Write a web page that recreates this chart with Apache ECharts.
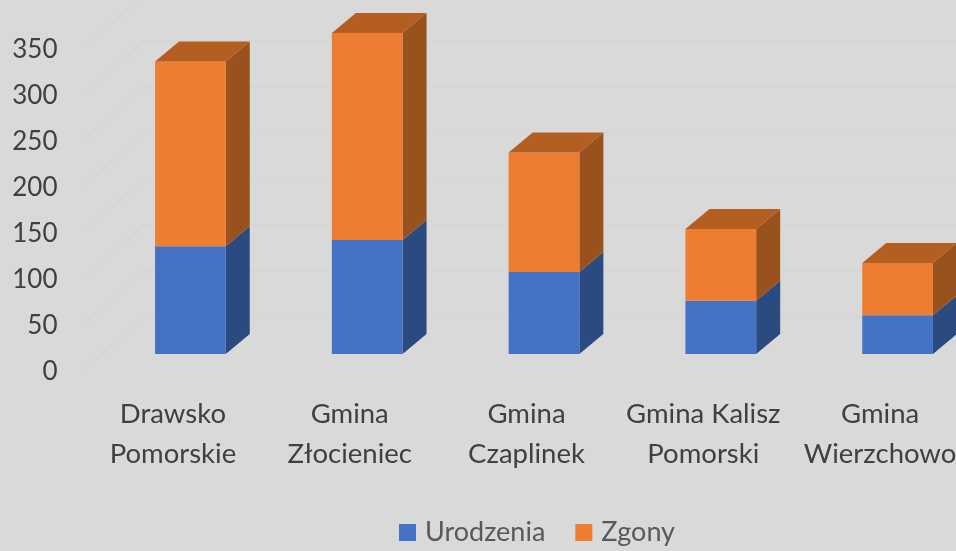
<!DOCTYPE html>
<html lang="pl">

<head>
    <meta charset="UTF-8">
    <title>Urodzenia i zgony</title>
    <script src="https://cdn.jsdelivr.net/npm/echarts/dist/echarts.min.js"></script>
    <style>
        html, body { margin: 0; padding: 0; background: #d9d9d9; }
        #chart { width: 956px; height: 551px; }
    </style>
</head>

<body>
    <div id="chart"></div>

    <script>
        let categories = ['Drawsko\nPomorskie', 'Gmina\nZłocieniec', 'Gmina\nCzaplinek', 'Gmina Kalisz\nPomorski', 'Gmina\nWierzchowo'];
        let urodzenia = [117, 124, 89, 58, 42];
        let zgony = [201, 225, 130, 78, 57];
        let yTicks = [0, 50, 100, 150, 200, 250, 300, 350];

        // pseudo 3D: the axis is the front plane, bars stand further back in it
        let barShift = [17.5, -18];
        let barDepth = [24, -20];
        let wallStart = -3;
        let wallShift = [60, -52];

        function box(api, color, sideColor, topColor) {
            let w = api.size([1, 0])[0] * 0.4;
            let bottom = api.coord([api.value(0), api.value(1)]);
            let top = api.coord([api.value(0), api.value(2)]);
            let x0 = bottom[0] + barShift[0] - w / 2;
            let x1 = x0 + w;
            let yb = bottom[1] + barShift[1];
            let yt = top[1] + barShift[1];
            let dx = barDepth[0];
            let dy = barDepth[1];
            let children = [
                {
                    type: 'polygon',
                    shape: { points: [[x1, yb], [x1 + dx, yb + dy], [x1 + dx, yt + dy], [x1, yt]] },
                    style: { fill: sideColor }
                },
                {
                    type: 'rect',
                    shape: { x: x0, y: yt, width: w, height: yb - yt },
                    style: { fill: color }
                }
            ];
            if (topColor) {
                children.push({
                    type: 'polygon',
                    shape: { points: [[x0, yt], [x0 + dx, yt + dy], [x1 + dx, yt + dy], [x1, yt]] },
                    style: { fill: topColor }
                });
            }
            return { type: 'group', children: children };
        }

        let chart = echarts.init(document.getElementById('chart'));
        chart.setOption({
            animation: false,
            backgroundColor: '#d9d9d9',
            textStyle: { fontFamily: 'Lato' },
            legend: {
                left: 394,
                top: 514,
                itemWidth: 17,
                itemHeight: 17,
                itemGap: 30,
                icon: 'rect',
                textStyle: { fontFamily: 'Lato', fontSize: 27, color: '#595959', padding: [0, 0, 4, 4] },
                data: ['Urodzenia', 'Zgony']
            },
            grid: {
                left: 84.5,
                top: 50,
                width: 884,
                height: 322,
                outerBoundsMode: 'none'
            },
            xAxis: {
                type: 'category',
                data: categories,
                axisLine: { show: false },
                axisTick: { show: false },
                axisLabel: {
                    margin: 22,
                    interval: 0,
                    fontFamily: 'Lato',
                    fontSize: 27.5,
                    lineHeight: 40,
                    color: '#404040'
                }
            },
            yAxis: {
                type: 'value',
                min: 0,
                max: 350,
                interval: 50,
                axisLine: { show: false },
                axisTick: { show: false },
                splitLine: { show: false },
                axisLabel: {
                    margin: 27,
                    fontFamily: 'Lato',
                    fontSize: 26,
                    color: '#404040'
                }
            },
            series: [
                {
                    // side wall and back wall lines
                    name: 'walls',
                    type: 'custom',
                    silent: true,
                    data: yTicks.map(t => [0, t]),
                    encode: { x: 0, y: 1 },
                    renderItem: function(params, api) {
                        let y = api.coord([0, api.value(1)])[1] + wallStart;
                        let x = params.coordSys.x;
                        return {
                            type: 'polyline',
                            shape: { points: [[x, y], [x + wallShift[0], y + wallShift[1]], [956, y + wallShift[1]]] },
                            style: { fill: null, stroke: '#d5d5d5', lineWidth: 1.5 }
                        };
                    }
                },
                {
                    name: 'Urodzenia',
                    type: 'custom',
                    itemStyle: { color: '#4472c4' },
                    data: urodzenia.map((v, i) => [i, 0, v]),
                    encode: { x: 0, y: [1, 2] },
                    renderItem: function(params, api) {
                        return box(api, '#4472c4', '#2a4a80');
                    }
                },
                {
                    name: 'Zgony',
                    type: 'custom',
                    itemStyle: { color: '#ed7d31' },
                    data: zgony.map((v, i) => [i, urodzenia[i], urodzenia[i] + v]),
                    encode: { x: 0, y: [1, 2] },
                    renderItem: function(params, api) {
                        return box(api, '#ed7d31', '#99521d', '#b55e22');
                    }
                }
            ]
        });
    </script>
</body>

</html>
